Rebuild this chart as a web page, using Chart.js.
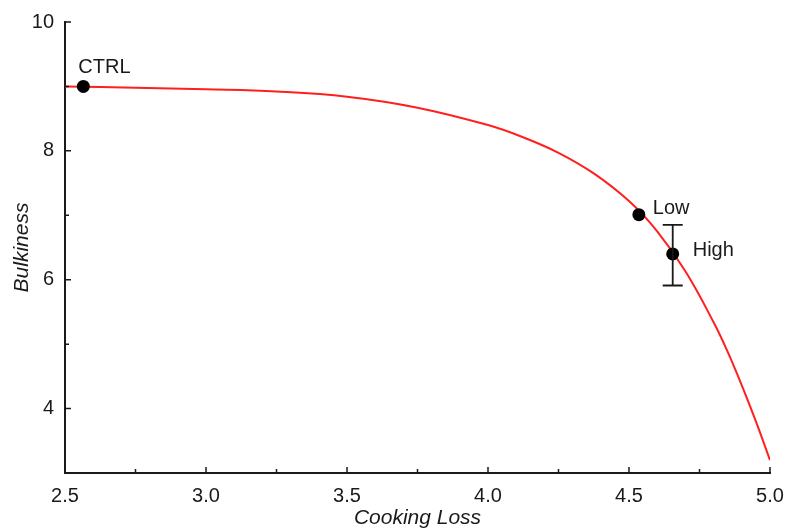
<!DOCTYPE html>
<html>
<head>
<meta charset="utf-8">
<script src="https://cdn.jsdelivr.net/npm/chart.js@4.4.1/dist/chart.umd.min.js"></script>
<style>
  html, body { margin: 0; padding: 0; background: #fff; }
  #wrap { width: 786px; height: 532px; }
</style>
</head>
<body>
<div id="wrap"><canvas id="chart" width="786" height="532"></canvas></div>
<script>
// fitted curve
const curveX = [2.5, 2.75, 3.0, 3.25, 3.5, 3.75, 4.0, 4.125, 4.25, 4.375, 4.5, 4.6, 4.7, 4.8, 4.85, 4.9, 4.95, 5.0];
const curveY = [9.0, 8.98, 8.955, 8.92, 8.84, 8.67, 8.40, 8.21, 7.97, 7.65, 7.22, 6.75, 6.13, 5.34, 4.88, 4.36, 3.80, 3.2];

// samples
const sampleNames = ["CTRL", "Low", "High"];
const sampleX = [2.565, 4.535, 4.655];
const sampleY = [9.0, 7.01, 6.40];
const errLow = [null, null, 5.91];
const errHigh = [null, null, 6.85];

const xTicks = [2.5, 3.0, 3.5, 4.0, 4.5, 5.0];
const yTicks = [4, 6, 8, 10];
const xMinor = [2.75, 3.25, 3.75, 4.25, 4.75];
const yMinor = [5, 7, 9];

const ink = "#1a1a1a";
const fontFamily = "'Liberation Sans', Arial, sans-serif";

const inwardTicks = {
  id: "inwardTicks",
  afterDraw(chart) {
    const { ctx, chartArea } = chart;
    const xs = chart.scales.x, ys = chart.scales.y;
    ctx.save();
    ctx.strokeStyle = ink;
    ctx.lineWidth = 1.5;
    ctx.beginPath();
    xTicks.forEach(v => { const p = xs.getPixelForValue(v); ctx.moveTo(p, chartArea.bottom); ctx.lineTo(p, chartArea.bottom - 6); });
    xMinor.forEach(v => { const p = xs.getPixelForValue(v); ctx.moveTo(p, chartArea.bottom); ctx.lineTo(p, chartArea.bottom - 4); });
    yTicks.forEach(v => { const p = ys.getPixelForValue(v); ctx.moveTo(chartArea.left, p); ctx.lineTo(chartArea.left + 6, p); });
    yMinor.forEach(v => { const p = ys.getPixelForValue(v); ctx.moveTo(chartArea.left, p); ctx.lineTo(chartArea.left + 4, p); });
    ctx.stroke();
    ctx.restore();
  }
};

const errorBars = {
  id: "errorBars",
  afterDatasetsDraw(chart) {
    const { ctx } = chart;
    const xs = chart.scales.x, ys = chart.scales.y;
    ctx.save();
    ctx.strokeStyle = ink;
    ctx.lineWidth = 1.8;
    sampleX.forEach((x, i) => {
      if (errLow[i] == null) return;
      const px = xs.getPixelForValue(x);
      const top = ys.getPixelForValue(errHigh[i]);
      const bot = ys.getPixelForValue(errLow[i]);
      ctx.beginPath();
      ctx.moveTo(px, top); ctx.lineTo(px, bot);
      ctx.moveTo(px - 10, top); ctx.lineTo(px + 10, top);
      ctx.moveTo(px - 10, bot); ctx.lineTo(px + 10, bot);
      ctx.stroke();
    });
    ctx.restore();
  }
};

const pointLabels = {
  id: "pointLabels",
  afterDatasetsDraw(chart) {
    const { ctx } = chart;
    const xs = chart.scales.x, ys = chart.scales.y;
    const offsets = { CTRL: [-5, -19], Low: [14, -6], High: [20, -3] };
    ctx.save();
    ctx.fillStyle = ink;
    ctx.font = "20px " + fontFamily;
    ctx.textAlign = "left";
    ctx.textBaseline = "middle";
    sampleNames.forEach((name, i) => {
      const px = xs.getPixelForValue(sampleX[i]);
      const py = ys.getPixelForValue(sampleY[i]);
      const o = offsets[name];
      ctx.fillText(name, px + o[0], py + o[1]);
    });
    ctx.restore();
  }
};

new Chart(document.getElementById("chart"), {
  type: "scatter",
  data: {
    datasets: [{
      label: "Samples",
      data: sampleX.map((x, i) => ({ x: x, y: sampleY[i] })),
      backgroundColor: "#000",
      borderWidth: 0,
      pointRadius: 6.5,
      order: 0
    }, {
      label: "Fit",
      type: "line",
      data: curveX.map((x, i) => ({ x: x, y: curveY[i] })),
      borderColor: "#ff1f1f",
      borderWidth: 2,
      pointRadius: 0,
      tension: 0.4,
      fill: false,
      order: 1
    }]
  },
  options: {
    responsive: false,
    animation: false,
    layout: { padding: { top: 22, right: 16, left: 0, bottom: 0 } },
    plugins: {
      legend: { display: false },
      tooltip: { enabled: false }
    },
    scales: {
      x: {
        type: "linear",
        min: 2.5,
        max: 5.0,
        afterBuildTicks: s => { s.ticks = xTicks.map(v => ({ value: v })); },
        afterFit: s => { s.height = 59; s.paddingRight = 0; s.paddingLeft = 0; },
        grid: { display: false },
        border: { display: true, color: ink, width: 2 },
        ticks: {
          color: ink,
          padding: 3,
          font: { size: 20, family: fontFamily },
          callback: v => Number(v).toFixed(1)
        },
        title: {
          display: true,
          text: "Cooking Loss",
          color: ink,
          font: { size: 21, style: "italic", family: fontFamily },
          padding: { top: 1, bottom: 1 }
        }
      },
      y: {
        type: "linear",
        min: 3,
        max: 10,
        afterBuildTicks: s => { s.ticks = yTicks.map(v => ({ value: v })); },
        afterFit: s => { s.width = 65; s.paddingTop = 0; s.paddingBottom = 0; },
        grid: { display: false },
        border: { display: true, color: ink, width: 2 },
        ticks: {
          color: ink,
          padding: 3,
          font: { size: 20, family: fontFamily }
        },
        title: {
          display: true,
          text: "Bulkiness",
          color: ink,
          font: { size: 21, style: "italic", family: fontFamily },
          padding: { top: 10, bottom: 0 }
        }
      }
    }
  },
  plugins: [inwardTicks, errorBars, pointLabels]
});
</script>
</body>
</html>
